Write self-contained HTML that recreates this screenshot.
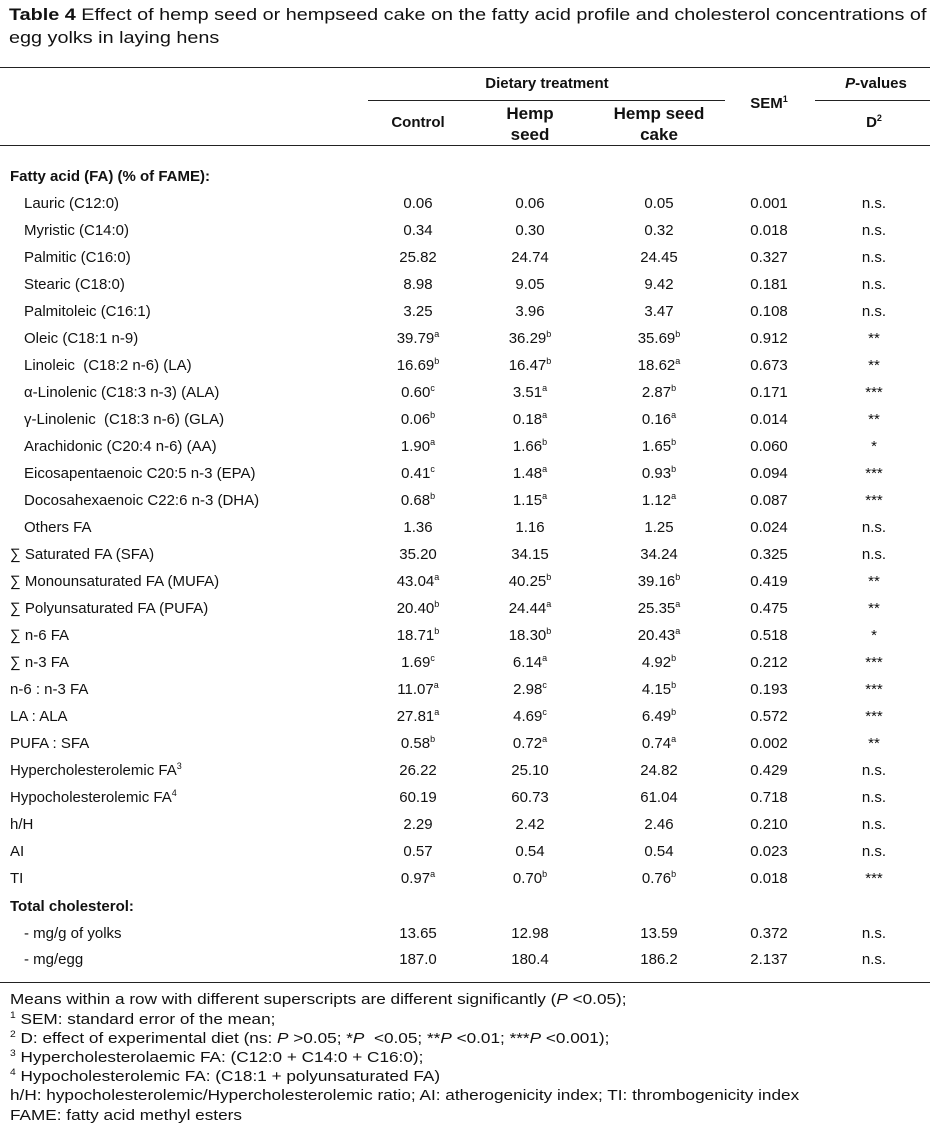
<!DOCTYPE html>
<html><head><meta charset="utf-8"><style>
body{margin:0;width:930px;height:1141px;background:#fff;position:relative;overflow:hidden;font-family:"Liberation Sans",Arial,sans-serif;color:#111;}
.a{position:absolute;white-space:nowrap;font-size:15px;line-height:18px;}
.c{transform:translateX(-50%);text-align:center;}
.rule{position:absolute;height:0;border-top:1.5px solid #222;}
sup{font-size:9px;line-height:0;vertical-align:6px;}
.t{font-size:17px;line-height:20px;transform:scaleX(1.165);transform-origin:0 0;}
.f{transform:scaleX(1.145);transform-origin:0 0;}
b{font-weight:bold;}
</style></head><body>
<div class="a t" style="left:9px;top:5px"><b>Table 4</b> Effect of hemp seed or hempseed cake on the fatty acid profile and cholesterol concentrations of</div>
<div class="a t" style="left:9px;top:28px">egg yolks in laying hens</div>
<div class="rule" style="left:0;width:930px;top:67px"></div>
<div class="a c" style="left:547px;top:75px;font-weight:bold">Dietary treatment</div>
<div class="rule" style="left:368px;width:357px;top:100px;border-top-width:1px"></div>
<div class="a c" style="left:876px;top:75px;font-weight:bold"><i>P</i>-values</div>
<div class="rule" style="left:815px;width:115px;top:100px;border-top-width:1px"></div>
<div class="a c" style="left:418px;top:114px;font-weight:bold">Control</div>
<div class="a c" style="left:530px;top:103px;font-weight:bold;font-size:17px;line-height:21px">Hemp<br>seed</div>
<div class="a c" style="left:659px;top:103px;font-weight:bold;font-size:17px;line-height:21px">Hemp seed<br>cake</div>
<div class="a c" style="left:769px;top:95px;font-weight:bold">SEM<sup>1</sup></div>
<div class="a c" style="left:874px;top:114px;font-weight:bold">D<sup>2</sup></div>
<div class="rule" style="left:0;width:930px;top:145px"></div>
<div class="a" style="left:10px;top:168px;font-weight:bold">Fatty acid (FA) (% of FAME):</div>
<div id="rows"></div>
<div class="a" style="left:10px;top:898px;font-weight:bold">Total cholesterol:</div>
<div class="rule" style="left:0;width:930px;top:982px"></div>
<div class="a f" style="left:10px;top:991px">Means within a row with different superscripts are different significantly (<i>P</i> &lt;0.05);</div>
<div class="a f" style="left:10px;top:1011px"><sup>1</sup> SEM: standard error of the mean;</div>
<div class="a f" style="left:10px;top:1030px"><sup>2</sup> D: effect of experimental diet (ns: <i>P</i> &gt;0.05; *<i>P</i> &nbsp;&lt;0.05; **<i>P</i> &lt;0.01; ***<i>P</i> &lt;0.001);</div>
<div class="a f" style="left:10px;top:1049px"><sup>3</sup> Hypercholesterolaemic FA: (C12:0 + C14:0 + C16:0);</div>
<div class="a f" style="left:10px;top:1068px"><sup>4</sup> Hypocholesterolemic FA: (C18:1 + polyunsaturated FA)</div>
<div class="a f" style="left:10px;top:1087px">h/H: hypocholesterolemic/Hypercholesterolemic ratio; AI: atherogenicity index; TI: thrombogenicity index</div>
<div class="a f" style="left:10px;top:1107px">FAME: fatty acid methyl esters</div>
<script>
const labels=["Lauric (C12:0)","Myristic (C14:0)","Palmitic (C16:0)","Stearic (C18:0)","Palmitoleic (C16:1)","Oleic (C18:1 n-9)","Linoleic &nbsp;(C18:2 n-6) (LA)","α-Linolenic (C18:3 n-3) (ALA)","γ-Linolenic &nbsp;(C18:3 n-6) (GLA)","Arachidonic (C20:4 n-6) (AA)","Eicosapentaenoic C20:5 n-3 (EPA)","Docosahexaenoic C22:6 n-3 (DHA)","Others FA","∑ Saturated FA (SFA)","∑ Monounsaturated FA (MUFA)","∑ Polyunsaturated FA (PUFA)","∑ n-6 FA","∑ n-3 FA","n-6 : n-3 FA","LA : ALA","PUFA : SFA","Hypercholesterolemic FA<sup>3</sup>","Hypocholesterolemic FA<sup>4</sup>","h/H","AI","TI","- mg/g of yolks","- mg/egg"];
const control=["0.06","0.34","25.82","8.98","3.25","39.79<sup>a</sup>","16.69<sup>b</sup>","0.60<sup>c</sup>","0.06<sup>b</sup>","1.90<sup>a</sup>","0.41<sup>c</sup>","0.68<sup>b</sup>","1.36","35.20","43.04<sup>a</sup>","20.40<sup>b</sup>","18.71<sup>b</sup>","1.69<sup>c</sup>","11.07<sup>a</sup>","27.81<sup>a</sup>","0.58<sup>b</sup>","26.22","60.19","2.29","0.57","0.97<sup>a</sup>","13.65","187.0"];
const hempSeed=["0.06","0.30","24.74","9.05","3.96","36.29<sup>b</sup>","16.47<sup>b</sup>","3.51<sup>a</sup>","0.18<sup>a</sup>","1.66<sup>b</sup>","1.48<sup>a</sup>","1.15<sup>a</sup>","1.16","34.15","40.25<sup>b</sup>","24.44<sup>a</sup>","18.30<sup>b</sup>","6.14<sup>a</sup>","2.98<sup>c</sup>","4.69<sup>c</sup>","0.72<sup>a</sup>","25.10","60.73","2.42","0.54","0.70<sup>b</sup>","12.98","180.4"];
const hempCake=["0.05","0.32","24.45","9.42","3.47","35.69<sup>b</sup>","18.62<sup>a</sup>","2.87<sup>b</sup>","0.16<sup>a</sup>","1.65<sup>b</sup>","0.93<sup>b</sup>","1.12<sup>a</sup>","1.25","34.24","39.16<sup>b</sup>","25.35<sup>a</sup>","20.43<sup>a</sup>","4.92<sup>b</sup>","4.15<sup>b</sup>","6.49<sup>b</sup>","0.74<sup>a</sup>","24.82","61.04","2.46","0.54","0.76<sup>b</sup>","13.59","186.2"];
const sem=["0.001","0.018","0.327","0.181","0.108","0.912","0.673","0.171","0.014","0.060","0.094","0.087","0.024","0.325","0.419","0.475","0.518","0.212","0.193","0.572","0.002","0.429","0.718","0.210","0.023","0.018","0.372","2.137"];
const pval=["n.s.","n.s.","n.s.","n.s.","n.s.","**","**","***","**","*","***","***","n.s.","n.s.","**","**","*","***","***","***","**","n.s.","n.s.","n.s.","n.s.","***","n.s.","n.s."];
const cols=[[control,418,'control'],[hempSeed,530,'hemp-seed'],[hempCake,659,'hemp-cake'],[sem,769,'sem'],[pval,874,'p-value']];
const host=document.getElementById('rows');
labels.forEach((lab,i)=>{
  const y=(i<26?204+27*i:934+26*(i-26))-9;
  const indent=(i<13)?24:(i>=26?24:10);
  const d=document.createElement('div');
  d.className='a';d.style.left=indent+'px';d.style.top=y+'px';d.innerHTML=lab;
  
  
  host.appendChild(d);
  cols.forEach(([arr,x,nm])=>{
    const e=document.createElement('div');
    e.className='a c';e.style.left=x+'px';e.style.top=y+'px';e.innerHTML=arr[i];
    
    
    host.appendChild(e);
  });
});
</script>
</body></html>
